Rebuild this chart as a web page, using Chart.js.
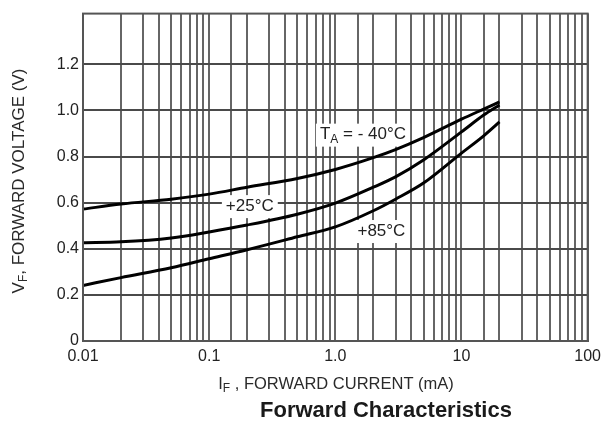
<!DOCTYPE html>
<html>
<head>
<meta charset="utf-8">
<script src="https://cdn.jsdelivr.net/npm/chart.js@4"></script>
<style>
  html, body { margin: 0; padding: 0; background: #fff; }
  #wrap { width: 607px; height: 432px; }
</style>
</head>
<body>
<div id="wrap"><canvas id="fwdChart" width="607" height="432"></canvas></div>
<script>
// Forward current (mA) sample points
const currentMA = [0.01, 0.02, 0.05, 0.1, 0.2, 0.5, 1, 2, 3, 5, 10, 15, 20];

// Forward voltage (V) for each temperature
const vfMinus40 = [0.572, 0.594, 0.615, 0.637, 0.667, 0.705, 0.744, 0.795, 0.830, 0.882, 0.962, 1.006, 1.037];
const vfPlus25  = [0.426, 0.430, 0.447, 0.473, 0.503, 0.550, 0.598, 0.667, 0.712, 0.785, 0.907, 0.980, 1.024];
const vfPlus85  = [0.241, 0.275, 0.318, 0.357, 0.396, 0.452, 0.495, 0.565, 0.615, 0.685, 0.815, 0.890, 0.950];

// Tick labels
const xTickValues = [0.01, 0.1, 1, 10, 100];
const xTickLabels = ["0.01", "0.1", "1.0", "10", "100"];
const yTickValues = [0, 0.2, 0.4, 0.6, 0.8, 1.0, 1.2];
const yTickLabels = ["0", "0.2", "0.4", "0.6", "0.8", "1.0", "1.2"];

const FONT = "'Liberation Sans', Arial, sans-serif";

function toPoints(ys) {
    return currentMA.map((x, i) => ({ x: x, y: ys[i] }));
}

// width of text made of [text, isSubscript] parts
function partsWidth(ctx, parts, size) {
    let w = 0;
    parts.forEach(p => {
        ctx.font = (p[1] ? Math.round(size * 0.72) : size) + "px " + FONT;
        w += ctx.measureText(p[0]).width;
    });
    return w;
}

// draw text made of [text, isSubscript] parts
function drawParts(ctx, parts, x, y, size, align) {
    const subSize = Math.round(size * 0.72);
    const total = partsWidth(ctx, parts, size);
    let cx = align === "center" ? x - total / 2 : x;
    ctx.textAlign = "left";
    ctx.textBaseline = "middle";
    parts.forEach(p => {
        ctx.font = (p[1] ? subSize : size) + "px " + FONT;
        ctx.fillText(p[0], cx, p[1] ? y + size * 0.3 : y);
        cx += ctx.measureText(p[0]).width;
    });
}

// labels on the plot, anchored in data units
const curveLabels = [
    { parts: [["T", false], ["A", true], [" = - 40°C", false]], mA: 0.755, v: 0.895, align: "left" },
    { parts: [["+25°C", false]], mA: 0.21, v: 0.585, align: "center" },
    { parts: [["+85°C", false]], mA: 2.32, v: 0.477, align: "center" }
];

const textPlugin = {
    id: "textPlugin",
    beforeDatasetsDraw(chart) {
        // curve labels with white boxes, under the curves but over the grid
        const ctx = chart.ctx;
        const xs = chart.scales.x, ys = chart.scales.y;
        ctx.save();
        curveLabels.forEach(l => {
            const px = xs.getPixelForValue(l.mA);
            const py = ys.getPixelForValue(l.v);
            const w = partsWidth(ctx, l.parts, 17);
            const left = l.align === "center" ? px - w / 2 : px;
            ctx.fillStyle = "#fff";
            ctx.fillRect(left - 4, py - 11, w + 8, 23);
            ctx.fillStyle = "#222";
            drawParts(ctx, l.parts, px, py, 17, l.align);
        });
        ctx.restore();
    },
    afterDatasetsDraw(chart) {
        // frame
        const ctx = chart.ctx;
        const area = chart.chartArea;
        ctx.save();
        ctx.strokeStyle = "#555";
        ctx.lineWidth = 2;
        ctx.strokeRect(area.left, area.top, area.right - area.left, area.bottom - area.top);
        ctx.restore();
    },
    afterDraw(chart) {
        const ctx = chart.ctx;
        ctx.save();
        ctx.fillStyle = "#2a2a2a";
        // x axis title
        drawParts(ctx, [["I", false], ["F", true], [" , FORWARD CURRENT (mA)", false]], 336, 384, 16.5, "center");
        // chart title
        ctx.fillStyle = "#1a1a1a";
        ctx.font = "bold 22px " + FONT;
        ctx.textAlign = "center";
        ctx.textBaseline = "middle";
        ctx.fillText("Forward Characteristics", 386, 411);
        // y axis title
        ctx.fillStyle = "#2a2a2a";
        ctx.translate(19, 181);
        ctx.rotate(-Math.PI / 2);
        drawParts(ctx, [["V", false], ["F", true], [", FORWARD VOLTAGE (V)", false]], 0, 0, 17, "center");
        ctx.restore();
    }
};

document.addEventListener("DOMContentLoaded", () => {
    const ctx = document.getElementById("fwdChart").getContext("2d");
    const lineStyle = {
        borderColor: "#000",
        borderWidth: 3,
        pointRadius: 0,
        fill: false,
        cubicInterpolationMode: "monotone"
    };
    new Chart(ctx, {
        type: "line",
        data: {
            datasets: [
                Object.assign({ label: "-40°C", data: toPoints(vfMinus40) }, lineStyle),
                Object.assign({ label: "+25°C", data: toPoints(vfPlus25) }, lineStyle),
                Object.assign({ label: "+85°C", data: toPoints(vfPlus85) }, lineStyle)
            ]
        },
        options: {
            responsive: false,
            animation: false,
            layout: { padding: { top: 11, right: 15, left: 0, bottom: 0 } },
            plugins: {
                legend: { display: false },
                tooltip: { enabled: false }
            },
            scales: {
                x: {
                    type: "logarithmic",
                    min: 0.01,
                    max: 100,
                    afterFit: (scale) => { scale.height = 91; },
                    grid: { color: "#666", lineWidth: 2, drawTicks: false },
                    border: { color: "#555", width: 2 },
                    ticks: {
                        autoSkip: false,
                        maxRotation: 0,
                        padding: 6,
                        color: "#222",
                        font: { family: FONT, size: 16 },
                        callback: (value) => {
                            const i = xTickValues.findIndex(v => Math.abs(v - value) < v * 1e-6);
                            return i >= 0 ? xTickLabels[i] : "";
                        }
                    }
                },
                y: {
                    min: 0,
                    max: 1.42,
                    afterFit: (scale) => { scale.width = 83; },
                    afterBuildTicks: (scale) => {
                        scale.ticks = yTickValues.map(v => ({ value: v }));
                    },
                    grid: { color: "#4a4a4a", lineWidth: 2, drawTicks: false },
                    border: { color: "#555", width: 2 },
                    ticks: {
                        padding: 4,
                        color: "#222",
                        font: { family: FONT, size: 16 },
                        callback: (value) => {
                            const i = yTickValues.findIndex(v => Math.abs(v - value) < 1e-6);
                            return i >= 0 ? yTickLabels[i] : "";
                        }
                    }
                }
            }
        },
        plugins: [textPlugin]
    });
});
</script>
</body>
</html>
